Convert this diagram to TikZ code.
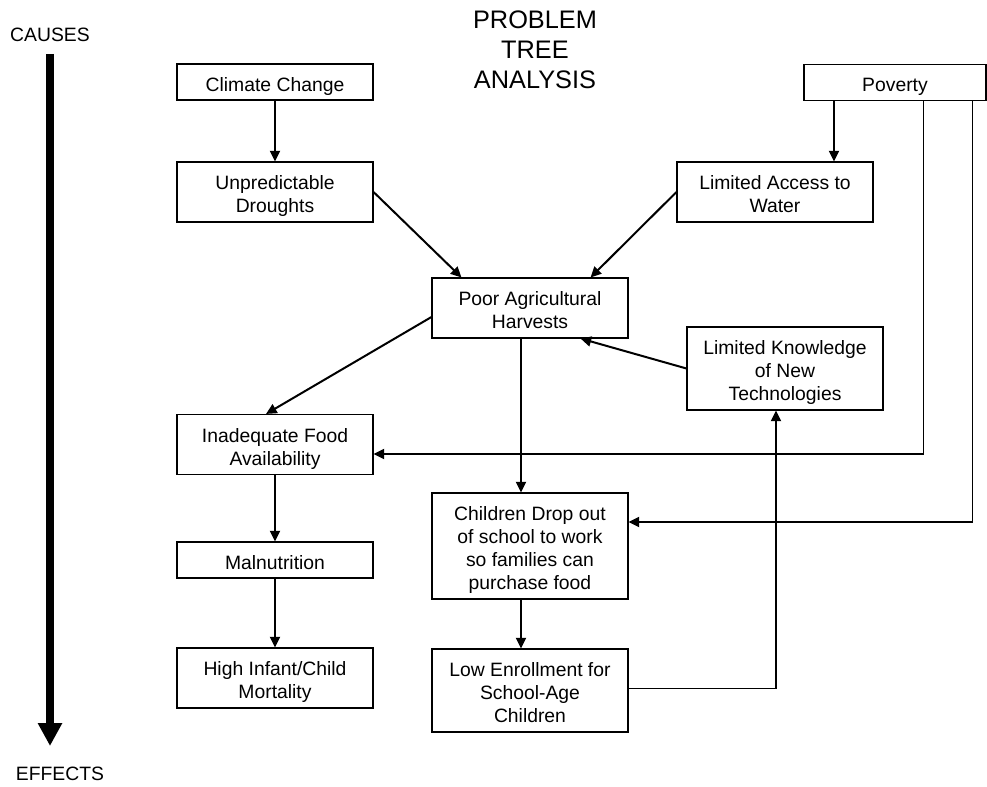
\documentclass[tikz,border=0pt]{standalone}
\usepackage{fontspec}
\setmainfont{Liberation Sans}
\usetikzlibrary{arrows.meta,positioning}

\begin{document}
\begin{tikzpicture}[x=0.75pt,y=-0.75pt,
  box/.style={draw=black,line width=0.8pt,inner sep=0pt,minimum width=147pt,align=center,font=\fontsize{14.5}{17.25}\selectfont,text depth=1.5pt},
  oneline/.style={minimum height=27pt,text height=15.5pt},
  twoline/.style={minimum height=45pt,text height=32.75pt},
  threeline/.style={minimum height=62.25pt,text height=50pt},
  fourline/.style={minimum height=79.5pt,text height=67.25pt},
  arr/.style={line width=1.5pt,-{Triangle[length=8pt,width=7.5pt]}},
  wire/.style={line width=0.75pt},
  side/.style={font=\fontsize{14.5}{17.25}\selectfont}]
\useasboundingbox (0,0) rectangle (987,787);
\node (title) at (535,50) [align=center,font=\fontsize{19}{22.5}\selectfont] {PROBLEM\\TREE\\ANALYSIS};
\node (causes) at (50,34.5) [side] {CAUSES};
\node (effects) at (60,774) [side] {EFFECTS};
\node (climate) at (275,82) [box,oneline] {Climate Change};
\node (poverty) at (895,82.5) [box,oneline,minimum width=136.5pt] {Poverty};
\node (drought) at (275,192) [box,twoline] {Unpredictable\\Droughts};
\node (access) at (775,192) [box,twoline] {Limited Access to\\Water};
\node (harvest) at (530,308) [box,twoline] {Poor Agricultural\\Harvests};
\node (knowledge) at (785,368.5) [box,threeline] {Limited Knowledge\\of New\\Technologies};
\node (food) at (275,444.5) [box,twoline] {Inadequate Food\\Availability};
\node (dropout) at (530,546) [box,fourline] {Children Drop out\\of school to work\\so families can\\purchase food};
\node (malnut) at (275,560) [box,oneline] {Malnutrition};
\node (mortality) at (275,678) [box,twoline] {High Infant/Child\\Mortality};
\node (enrol) at (530,690.5) [box,threeline] {Low Enrollment for\\School-Age\\Children};
% cause to effect
\coordinate (top) at (50,54);
\coordinate (tip) at (50,746);
\draw[line width=6pt,-{Triangle[length=17.25pt,width=17.25pt]}] (top) -- (tip);
% helper points
\coordinate (p1) at (834,0);
\coordinate (p2) at (521,0);
\coordinate (c1) at (923,454);
\coordinate (c2) at (972,522);
\coordinate (c3) at (776,688);
\draw[arr] (climate) -- (drought);
\draw[arr] (poverty.south -| p1) -- (access.north -| p1);
\draw[arr] (drought.east) -- ([xshift=22.5pt]harvest.north west);
\draw[arr] (access.west) -- ([xshift=-28.5pt]harvest.north east);
\draw[arr] ([yshift=-6.75pt]harvest.west) -- ([xshift=-6.75pt]food.north);
\draw[arr] (knowledge.west) -- ([xshift=-36pt]harvest.south east);
\draw[arr] (harvest.south -| p2) -- (dropout.north -| p2);
\draw[arr] (dropout.south -| p2) -- (enrol.north -| p2);
\draw[arr] (food) -- (malnut);
\draw[arr] (malnut) -- (mortality);
\draw[wire] (poverty.south -| c1) -- ([yshift=-0.75pt]c1);
\draw[arr] (c1) -- (food.east |- c1);
\draw[wire] (poverty.south -| c2) -- ([yshift=-0.75pt]c2);
\draw[arr] (c2) -- (dropout.east |- c2);
\draw[wire] (enrol.east |- c3) -- ([xshift=0.75pt]c3);
\draw[arr] (c3) -- (knowledge.south -| c3);
\end{tikzpicture}
\end{document}
